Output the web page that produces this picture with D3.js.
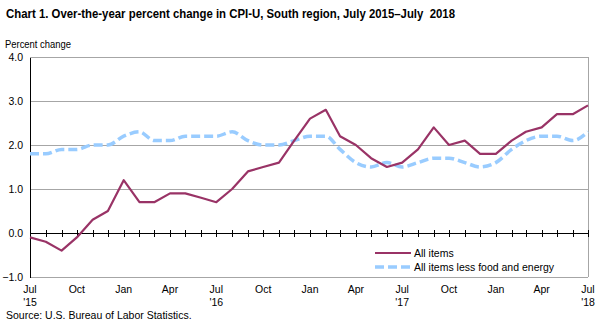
<!DOCTYPE html>
<html>
<head>
<meta charset="utf-8">
<script src="https://cdn.jsdelivr.net/npm/d3@7"></script>
<style>
  body { margin: 0; background: #fff; }
  text { font-family: "Liberation Sans", Arial, sans-serif; }
</style>
</head>
<body>
<div id="chart"></div>
<script>
// Over-the-year percent change, July 2015 through July 2018
const months = d3.timeMonths(new Date(2015, 6, 1), new Date(2018, 7, 1));

const allItems = [
  -0.1, -0.2, -0.4, -0.1, 0.3, 0.5, 1.2, 0.7, 0.7, 0.9, 0.9, 0.8,
  0.7, 1.0, 1.4, 1.5, 1.6, 2.1, 2.6, 2.8, 2.2, 2.0, 1.7, 1.5,
  1.6, 1.9, 2.4, 2.0, 2.1, 1.8, 1.8, 2.1, 2.3, 2.4, 2.7, 2.7,
  2.9
];

const coreItems = [
  1.8, 1.8, 1.9, 1.9, 2.0, 2.0, 2.2, 2.3, 2.1, 2.1, 2.2, 2.2,
  2.2, 2.3, 2.1, 2.0, 2.0, 2.1, 2.2, 2.2, 1.9, 1.6, 1.5, 1.6,
  1.5, 1.6, 1.7, 1.7, 1.6, 1.5, 1.6, 1.9, 2.1, 2.2, 2.2, 2.1,
  2.3
];

const yTicks = [-1, 0, 1, 2, 3, 4];
const seriesNames = ["All items", "All items less food and energy"];

const width = 603, height = 326;
const margin = { top: 57, right: 15, bottom: 49, left: 30 };

const svg = d3.select("#chart").append("svg")
    .attr("width", width)
    .attr("height", height);

const x = d3.scaleTime()
    .domain(d3.extent(months))
    .range([margin.left, width - margin.right]);

const y = d3.scaleLinear()
    .domain([-1, 4])
    .range([height - margin.bottom, margin.top]);

// Title and axis caption (narrow, squeezed to width)
svg.append("text")
    .attr("x", 6).attr("y", 18)
    .attr("font-size", 13.5)
    .attr("font-weight", "bold")
    .attr("textLength", 449)
    .attr("lengthAdjust", "spacingAndGlyphs")
    .attr("style", "white-space:pre")
    .text("Chart 1. Over-the-year percent change in CPI-U, South region, July 2015\u2013July  2018");

svg.append("text")
    .attr("x", 5).attr("y", 48)
    .attr("font-size", 10)
    .attr("textLength", 66)
    .attr("lengthAdjust", "spacingAndGlyphs")
    .text("Percent change");

// Gridlines
svg.append("g")
    .selectAll("line")
    .data(yTicks)
    .join("line")
    .attr("x1", margin.left).attr("x2", width - margin.right)
    .attr("y1", d => y(d)).attr("y2", d => y(d))
    .attr("stroke", "#a6a6a6")
    .attr("stroke-width", 1)
    .attr("shape-rendering", "crispEdges");

// Right border
svg.append("line")
    .attr("x1", width - margin.right).attr("x2", width - margin.right)
    .attr("y1", margin.top).attr("y2", height - margin.bottom)
    .attr("stroke", "#a6a6a6")
    .attr("shape-rendering", "crispEdges");

// Y axis
const yAxis = svg.append("g")
    .attr("transform", `translate(${margin.left},0)`)
    .call(d3.axisLeft(y).tickValues(yTicks).tickFormat(d3.format(".1f")).tickSize(0).tickPadding(7));
yAxis.select(".domain").attr("stroke", "#000").attr("shape-rendering", "crispEdges");
yAxis.selectAll("text")
    .attr("font-size", 10.5)
    .attr("font-family", "Liberation Sans, Arial, sans-serif")
    .attr("fill", "#000");

// Zero line with monthly ticks
const zeroAxis = svg.append("g")
    .attr("transform", `translate(0,${y(0)})`)
    .call(d3.axisBottom(x).tickValues(months).tickSizeInner(7).tickSizeOuter(0).tickFormat(""));
zeroAxis.select(".domain").attr("stroke", "#000").attr("shape-rendering", "crispEdges");
zeroAxis.selectAll(".tick line")
    .attr("y1", -3.5).attr("y2", 3.5)
    .attr("stroke", "#000")
    .attr("shape-rendering", "crispEdges");

// Quarterly month labels below the plot
const monthFmt = d3.timeFormat("%b");
const labelMonths = months.filter((d, i) => i % 3 === 0);
const xLabels = svg.append("g")
    .attr("font-size", 10.5)
    .attr("text-anchor", "middle");
xLabels.selectAll("text.m")
    .data(labelMonths)
    .join("text")
    .attr("class", "m")
    .attr("x", d => x(d))
    .attr("y", height - margin.bottom + 16)
    .text(d => monthFmt(d));
xLabels.selectAll("text.yr")
    .data(labelMonths.filter(d => d.getMonth() === 6))
    .join("text")
    .attr("class", "yr")
    .attr("x", d => x(d))
    .attr("y", height - margin.bottom + 29)
    .text(d => "'" + d3.timeFormat("%y")(d));

// Series lines
const allLine = d3.line()
    .x((d, i) => x(months[i]))
    .y(d => y(d));

const coreLine = d3.line()
    .x((d, i) => x(months[i]))
    .y(d => y(d))
    .curve(d3.curveMonotoneX);

svg.append("path")
    .datum(coreItems)
    .attr("fill", "none")
    .attr("stroke", "#99ccff")
    .attr("stroke-width", 3.5)
    .attr("stroke-dasharray", "9,4")
    .attr("d", coreLine);

svg.append("path")
    .datum(allItems)
    .attr("fill", "none")
    .attr("stroke", "#993366")
    .attr("stroke-width", 2.2)
    .attr("stroke-linejoin", "round")
    .attr("d", allLine);

// Legend
const legend = svg.append("g").attr("transform", "translate(375,253)");
const legendStyles = [
  { color: "#993366", width: 2.2, dash: null },
  { color: "#99ccff", width: 3.5, dash: "9,4" }
];
seriesNames.forEach((name, i) => {
  const g = legend.append("g").attr("transform", `translate(0,${i * 14})`);
  g.append("line")
    .attr("x1", 0).attr("x2", 36)
    .attr("stroke", legendStyles[i].color)
    .attr("stroke-width", legendStyles[i].width)
    .attr("stroke-dasharray", legendStyles[i].dash);
  g.append("text")
    .attr("x", 39).attr("y", 4)
    .attr("font-size", 10.5)
    .text(name);
});

// Source note
svg.append("text")
    .attr("x", 6).attr("y", 319)
    .attr("font-size", 10.5)
    .text("Source: U.S. Bureau of Labor Statistics.");
</script>
</body>
</html>
